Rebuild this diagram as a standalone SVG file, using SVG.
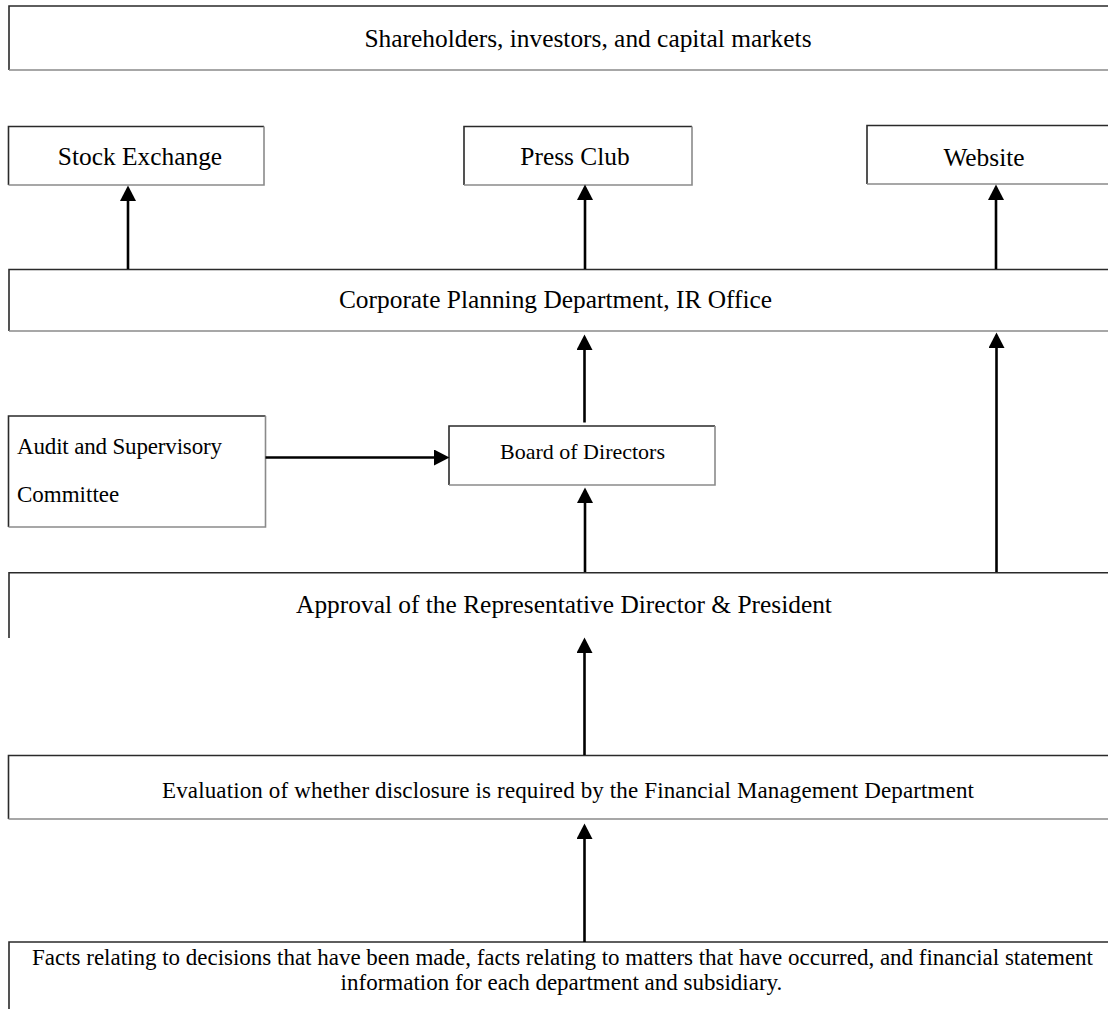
<svg xmlns="http://www.w3.org/2000/svg" width="1108" height="1009" viewBox="0 0 1108 1009">
<style>
text{font-family:"Liberation Serif","Times New Roman",serif;fill:#000;}
.t{font-size:25.4px;text-anchor:middle;}
.s{font-size:23px;text-anchor:middle;}
.tl{stroke:#2a2a2a;stroke-width:1.6;fill:none;}
.br{stroke:#8a8a8a;stroke-width:1.6;fill:none;}
.bg{fill:#fff;stroke:none;}
.c{stroke:#000;stroke-width:2.6;fill:none;marker-end:url(#ah);}
</style>
<defs>
<marker id="ah" markerUnits="userSpaceOnUse" viewBox="0 0 16 16" markerWidth="16" markerHeight="16" refX="7" refY="8" orient="auto">
<path d="M0,0 L15.5,8 L0,16 Z" fill="#000"/>
</marker>
</defs>
<rect width="1108" height="1009" fill="#fff"/>

<g id="shareholders">
<rect class="bg" x="9" y="6" width="1110" height="64"/>
<path class="tl" d="M9,70 V6 H1120"/>
<path class="br" d="M9,70 H1120"/>
<text class="t" x="588" y="47">Shareholders, investors, and capital markets</text>
</g>

<g id="stock-exchange">
<rect class="bg" x="8.5" y="126.5" width="255.5" height="58.5"/>
<path class="tl" d="M8.5,185 V126.5 H264"/>
<path class="br" d="M264,126.5 V185 H8.5"/>
<text class="t" x="140" y="165">Stock Exchange</text>
</g>

<g id="press-club">
<rect class="bg" x="464" y="126.5" width="228" height="58.5"/>
<path class="tl" d="M464,185 V126.5 H692"/>
<path class="br" d="M692,126.5 V185 H464"/>
<text class="t" x="575" y="165">Press Club</text>
</g>

<g id="website">
<rect class="bg" x="867" y="125.5" width="250" height="58.5"/>
<path class="tl" d="M867,184 V125.5 H1120"/>
<path class="br" d="M867,184 H1120"/>
<text class="t" x="984" y="166">Website</text>
</g>

<g id="corporate-planning">
<rect class="bg" x="9" y="269.5" width="1110" height="61.5"/>
<path class="tl" d="M9,331 V269.5 H1120"/>
<path class="br" d="M9,331 H1120"/>
<text class="t" x="555.5" y="308">Corporate Planning Department, IR Office</text>
</g>

<g id="board">
<rect class="bg" x="449" y="426" width="266" height="59"/>
<path class="tl" d="M449,485 V426 H715"/>
<path class="br" d="M715,426 V485 H449"/>
<text x="582.5" y="459" font-size="22" text-anchor="middle" textLength="165" lengthAdjust="spacing">Board of Directors</text>
</g>

<g id="audit">
<rect class="bg" x="8.5" y="416" width="257" height="111"/>
<path class="tl" d="M8.5,527 V416 H265.5"/>
<path class="br" d="M265.5,416 V527 H8.5"/>
<text x="17" y="454" font-size="23" textLength="205" lengthAdjust="spacing">Audit and Supervisory</text>
<text x="17" y="502" font-size="23">Committee</text>
</g>

<g id="approval">
<path class="tl" d="M9,638 V572.7 H1120"/>
<text class="t" x="564" y="613">Approval of the Representative Director &amp; President</text>
</g>

<g id="evaluation">
<rect class="bg" x="8.5" y="755.5" width="1110" height="63.5"/>
<path class="tl" d="M8.5,819 V755.5 H1120"/>
<path class="br" d="M8.5,819 H1120"/>
<text class="s" x="568" y="798" textLength="812" lengthAdjust="spacing">Evaluation of whether disclosure is required by the Financial Management Department</text>
</g>

<g id="facts">
<path class="tl" d="M9,1012 V942 H1120"/>
<text class="s" x="562.5" y="965" textLength="1061" lengthAdjust="spacing">Facts relating to decisions that have been made, facts relating to matters that have occurred, and financial statement</text>
<text class="s" x="561.5" y="990">information for each department and subsidiary.</text>
</g>

<g id="connectors">
<path class="c" d="M128,269 V194"/>
<path class="c" d="M585,269 V193"/>
<path class="c" d="M996,269 V193"/>
<path class="c" d="M584.5,422.5 V343"/>
<path class="c" d="M996.5,572 V341"/>
<path class="c" d="M265.5,457.5 H441"/>
<path class="c" d="M585,572 V496"/>
<path class="c" d="M584.5,755 V646"/>
<path class="c" d="M584.5,942 V832"/>
</g>
</svg>
